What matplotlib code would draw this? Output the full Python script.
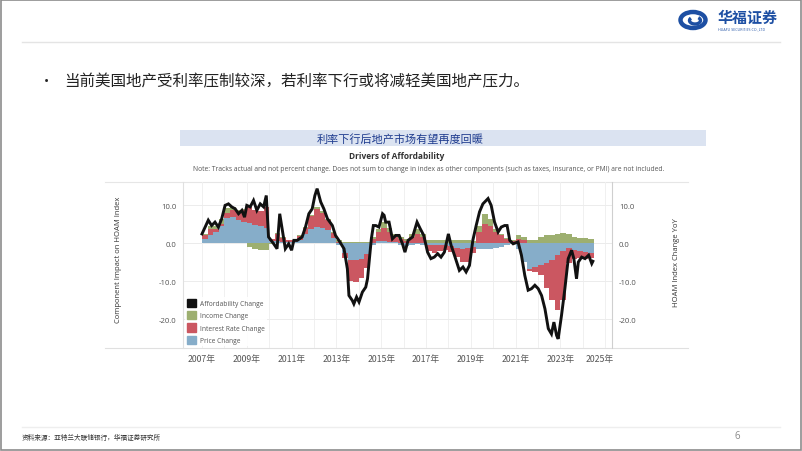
import numpy as np
import matplotlib
matplotlib.use("Agg")
import matplotlib.pyplot as plt
from matplotlib.patches import Rectangle, Ellipse, Arc, Patch
import matplotlib.transforms as mtransforms

plt.rcParams['font.family'] = ['Open Sans', 'Noto Sans CJK SC', 'DejaVu Sans']

# quarterly components, 2007Q1 .. 2024Q2 (stacked bars)
first_quarter = 2007.0
price_chg = [1.0, 2.0, 2.8, 4.5,
             6.5, 6.8, 6.0, 5.6,
             5.2, 4.8, 4.4, 4.0,
             0.5, 0.5, 0.3, 0.2,
             0.2, 0.8, 2.5, 3.8,
             4.2, 4.0, 3.5, 1.2,
             -0.5, -2.5, -4.5, -4.5,
             -4.3, -3.0, -0.5, 0.5,
             0.5, 0.3, 0.2, -0.5,
             -0.8, -0.5, -0.3, -0.5,
             -0.5, -0.5, -0.6, -0.6,
             -0.8, -1.2, -1.5, -1.3,
             -1.0, -1.5, -1.5, -1.5,
             -1.2, -1.0, -0.5, -0.2,
             -1.5, -5.0, -6.8, -6.2,
             -5.8, -5.3, -4.5, -3.2,
             -2.0, -1.2, -1.8, -2.2,
             -2.3, -2.5]
rate_chg = [1.0, 1.8, 0.8, 0.5,
            1.5, 1.8, 2.5, 3.2,
            4.2, 4.0, 4.0, 5.5,
            0.5, 2.0, 1.0, 0.5,
            0.5, 1.0, 1.5, 3.2,
            4.8, 4.0, 2.5, 1.5,
            0.3, -1.5, -5.5, -5.8,
            -5.0, -3.5, 1.0, 2.5,
            3.5, 2.5, 1.5, 1.0,
            0.5, 1.5, 2.5, 1.5,
            -1.5, -2.0, -1.6, -1.2,
            -1.5, -2.5, -3.5, -3.8,
            -1.5, 3.0, 5.1, 4.6,
            2.9, 2.0, 1.0, 0.5,
            1.0, 0.8, -0.5, -1.5,
            -2.5, -6.5, -10.5, -14.5,
            -13.0, -4.0, -2.5, -1.8,
            -1.8, -1.5]
income_chg = [0.3, 0.8, 1.0, 1.2,
              1.2, 0.8, 0.3, 0.2,
              -1.0, -1.5, -1.8, -1.8,
              -0.3, 0.2, 0.2, 0.0,
              0.2, 0.2, 0.2, 0.3,
              0.4, 0.3, 0.2, 0.2,
              0.5, 0.3, 0.2, 0.2,
              0.2, 0.2, 0.5, 0.8,
              1.5, 1.2, 0.8, 0.5,
              0.5, 0.8, 1.2, 0.8,
              0.7, 0.8, 0.8, 0.8,
              0.8, 0.8, 0.8, 0.8,
              0.5, 1.6, 2.6, 1.8,
              0.9, 0.5, 0.3, 0.3,
              1.0, 0.8, 0.8, 0.9,
              1.6, 2.0, 2.2, 2.4,
              2.6, 2.3, 1.6, 1.3,
              1.2, 1.1]

# affordability change line (date in decimal years, value)
line_dates = [2007.0, 2007.28, 2007.43, 2007.58, 2007.73, 2007.88, 2008.03, 2008.18, 2008.33,
              2008.48, 2008.63, 2008.78, 2008.9, 2009.0, 2009.15, 2009.3, 2009.45, 2009.6,
              2009.75, 2009.87, 2009.97, 2010.2, 2010.35, 2010.47, 2010.6, 2010.72, 2010.87,
              2011.0, 2011.1, 2011.25, 2011.47, 2011.62, 2011.77, 2011.92, 2012.04, 2012.14,
              2012.3, 2012.44, 2012.6, 2012.82, 2012.96, 2013.11, 2013.34, 2013.49, 2013.56,
              2013.71, 2013.78, 2013.9, 2014.01, 2014.16, 2014.31, 2014.39, 2014.46, 2014.56,
              2014.65, 2014.76, 2014.9, 2015.06, 2015.13, 2015.2, 2015.35, 2015.5, 2015.65,
              2015.8, 2015.95, 2016.06, 2016.2, 2016.4, 2016.6, 2016.74, 2016.9, 2017.07,
              2017.22, 2017.37, 2017.52, 2017.67, 2017.82, 2018.0, 2018.12, 2018.27, 2018.49,
              2018.65, 2018.79, 2018.94, 2019.09, 2019.24, 2019.39, 2019.54, 2019.77, 2019.91,
              2020.06, 2020.22, 2020.36, 2020.51, 2020.62, 2020.74, 2020.89, 2021.11, 2021.26,
              2021.41, 2021.56, 2021.71, 2021.86, 2022.01, 2022.16, 2022.31, 2022.46, 2022.6,
              2022.71, 2022.83, 2022.9, 2023.05, 2023.2, 2023.35, 2023.5, 2023.6, 2023.72,
              2023.8, 2023.95, 2024.1, 2024.26, 2024.4, 2024.45]
afford_chg = [2.4, 6.0, 4.6, 5.5, 4.2, 6.4, 9.9, 10.3, 9.5,
              9.0, 7.7, 8.6, 6.8, 9.9, 9.5, 11.2, 8.6, 10.3,
              9.5, 12.5, 1.6, -0.2, -1.5, 7.7, 2.9, -1.5, -0.2,
              -1.9, 0.7, 0.7, 1.6, 4.2, 7.7, 9.0, 12.5, 14.3,
              10.8, 9.0, 6.4, 4.6, 2.0, 0.7, -1.5, -6.8, -13.8,
              -15.1, -16.0, -14.2, -15.5, -12.9, -11.6, -9.4, -5.0, 1.1,
              4.6, 4.6, 4.2, 7.7, 7.3, 5.5, 5.5, 1.1, 2.0,
              2.0, -0.2, -2.4, 0.7, 1.6, 5.5, 3.8, 2.0, -2.4,
              -4.1, -3.7, -2.8, -3.7, -2.4, 2.4, -0.6, -3.2, -7.2,
              -6.3, -7.6, -5.9, 0.7, 4.6, 8.2, 10.3, 11.7, 9.9,
              5.5, 2.9, 4.2, 4.6, 4.6, 0.7, -0.2, 0.3, -3.2,
              -8.5, -12.4, -12.0, -11.1, -12.0, -13.8, -17.3, -22.5, -23.9,
              -20.8, -24.3, -25.2, -19.0, -12.0, -4.1, -1.9, -4.1, -9.4,
              -5.0, -3.7, -4.1, -3.2, -5.4, -4.8]

y_ticks = [10, 0, -10, -20]
y_labels = ["10.0", "0.0", "-10.0", "-20.0"]
year_ticks = list(range(2007, 2026, 2))
year_labels = [str(y) + "年" for y in year_ticks]

series_colors = ["#86adc9", "#cb5761", "#9daf70"]  # price, rate, income
line_color = "#111111"

W, H = 802, 452
fig = plt.figure(figsize=(W / 100, H / 100), dpi=100)

# background layer in pixel coordinates
bg = fig.add_axes([0, 0, 1, 1])
bg.set_xlim(0, W)
bg.set_ylim(H, 0)
bg.axis("off")
bg.add_patch(Rectangle((0.5, 0.5), W - 1.5, H - 1.5, fill=False, ec="#8c8c8c", lw=1.2))
bg.plot([22, 780], [43, 43], color="#e4e4e4", lw=1)
bg.plot([22, 780], [428, 428], color="#eeeeee", lw=1)

# logo
bg.add_patch(Ellipse((693, 21), 25, 16, fill=False, ec="#1d4fa3", lw=3.2))
bg.add_patch(Arc((695, 21.5), 11, 7, theta1=-40, theta2=210, ec="#1d4fa3", lw=2.4))
bg.text(718, 18, "华福证券", family=["Noto Sans CJK SC"], fontsize=10.8, fontweight="bold",
        color="#1d4fa3", va="center", ha="left")
bg.text(718, 29.5, "HUAFU SECURITIES CO.,LTD", fontsize=2.6, color="#1d4fa3", va="center", ha="left")

bg.text(44, 82, "•", fontsize=10, color="#222222", va="center", ha="left")
bg.text(64, 82, "当前美国地产受利率压制较深，若利率下行或将减轻美国地产压力。",
        family=["Noto Sans CJK SC"], fontsize=11.2, color="#222222", va="center", ha="left")

bg.add_patch(Rectangle((180, 131), 526, 16, color="#dbe3f1", lw=0))
bg.text(400, 139.5, "利率下行后地产市场有望再度回暖", family=["Noto Sans CJK SC"], fontsize=8,
        color="#1f3c8f", va="center", ha="center")
bg.text(397, 157, "Drivers of Affordability", fontsize=6, fontweight="bold", color="#333333",
        va="center", ha="center")
bg.text(429, 170, "Note: Tracks actual and not percent change. Does not sum to change in index as other "
        "components (such as taxes, insurance, or PMI) are not included.",
        fontsize=4.9, color="#555555", va="center", ha="center")
bg.plot([105, 688], [183, 183], color="#e6e6e6", lw=0.8)
bg.plot([105, 688], [349, 349], color="#e0e0e0", lw=0.8)
bg.text(118, 260, "Component Impact on HOAM Index", rotation=90, fontsize=5.5, color="#333333",
        va="center", ha="center")
bg.text(677, 263, "HOAM Index Change YoY", rotation=90, fontsize=5.5, color="#333333",
        va="center", ha="center")

bg.text(22, 438, "资料来源：亚特兰大联储银行，华福证券研究所", family=["Noto Sans CJK SC"],
        fontsize=4.8, color="#333333", va="center", ha="left")
bg.text(737, 437, "6", fontsize=7, color="#8a8a8a", va="center", ha="center")

# main chart
px_per_year = 22.4
ax = fig.add_axes([183 / W, (H - 349) / H, (612 - 183) / W, (349 - 183) / H])
ax.set_facecolor("none")
ax.set_xlim(2007 - 19 / px_per_year, 2007 + 410 / px_per_year)
ax.set_ylim(-27.6, 16.05)

x = first_quarter + 0.25 * np.arange(len(price_chg))
pos_base = np.zeros(len(x))
neg_base = np.zeros(len(x))
for vals, col in zip([price_chg, rate_chg, income_chg], series_colors):
    v = np.array(vals)
    p = np.where(v > 0, v, 0)
    n = np.where(v < 0, v, 0)
    ax.bar(x, p, width=0.25, bottom=pos_base, align="edge", color=col, lw=0, zorder=2)
    ax.bar(x, n, width=0.25, bottom=neg_base, align="edge", color=col, lw=0, zorder=2)
    pos_base += p
    neg_base += n

ax.plot(line_dates, afford_chg, color=line_color, lw=2.1, zorder=3, solid_joinstyle="miter")

ax.set_yticks(y_ticks)
ax.set_yticklabels(y_labels)
ax.set_xticks(year_ticks)
ax.set_xticklabels(year_labels, family=["Noto Sans CJK SC"])
ax.set_xticks(range(2007, 2026), minor=True)
ax.tick_params(axis="both", which="both", length=0)
ax.tick_params(axis="y", labelsize=5.6, labelcolor="#555555", pad=5)
ax.tick_params(axis="x", labelsize=6.3, labelcolor="#555555", pad=4)
ax.grid(axis="x", which="both", color="#f0f0f0", lw=0.7, zorder=0)
ax.grid(axis="y", color="#ececec", lw=0.7, zorder=0)
ax.axhline(0, color="#d8d8d8", lw=0.7, zorder=1)
for s in ["top", "bottom"]:
    ax.spines[s].set_visible(False)
ax.spines["left"].set_color("#e0e0e0")
ax.spines["right"].set_color("#cfcfcf")
last = ax.get_xticklabels()[-1]
last.set_transform(last.get_transform() + mtransforms.ScaledTranslation(-6 / 100, 0, fig.dpi_scale_trans))

ax2 = ax.twinx()
ax2.set_ylim(ax.get_ylim())
ax2.set_yticks(y_ticks)
ax2.set_yticklabels(y_labels)
ax2.tick_params(axis="y", length=0, labelsize=5.6, labelcolor="#555555", pad=5)
for s in ax2.spines.values():
    s.set_visible(False)

handles = [Patch(color=line_color, label="Affordability Change"),
           Patch(color=series_colors[2], label="Income Change"),
           Patch(color=series_colors[1], label="Interest Rate Change"),
           Patch(color=series_colors[0], label="Price Change")]
leg = ax.legend(handles=handles, loc="lower left", bbox_to_anchor=(0.0, 0.0), fontsize=4.8,
                handlelength=1.4, handleheight=1.5, labelspacing=0.6, handletextpad=0.6,
                borderaxespad=0.3, frameon=True, fancybox=False, borderpad=0.3)
leg.get_frame().set_facecolor("white")
leg.get_frame().set_edgecolor("none")
leg.get_frame().set_alpha(0.9)
for t in leg.get_texts():
    t.set_color("#555555")

fig.savefig("out.png", dpi=100)
